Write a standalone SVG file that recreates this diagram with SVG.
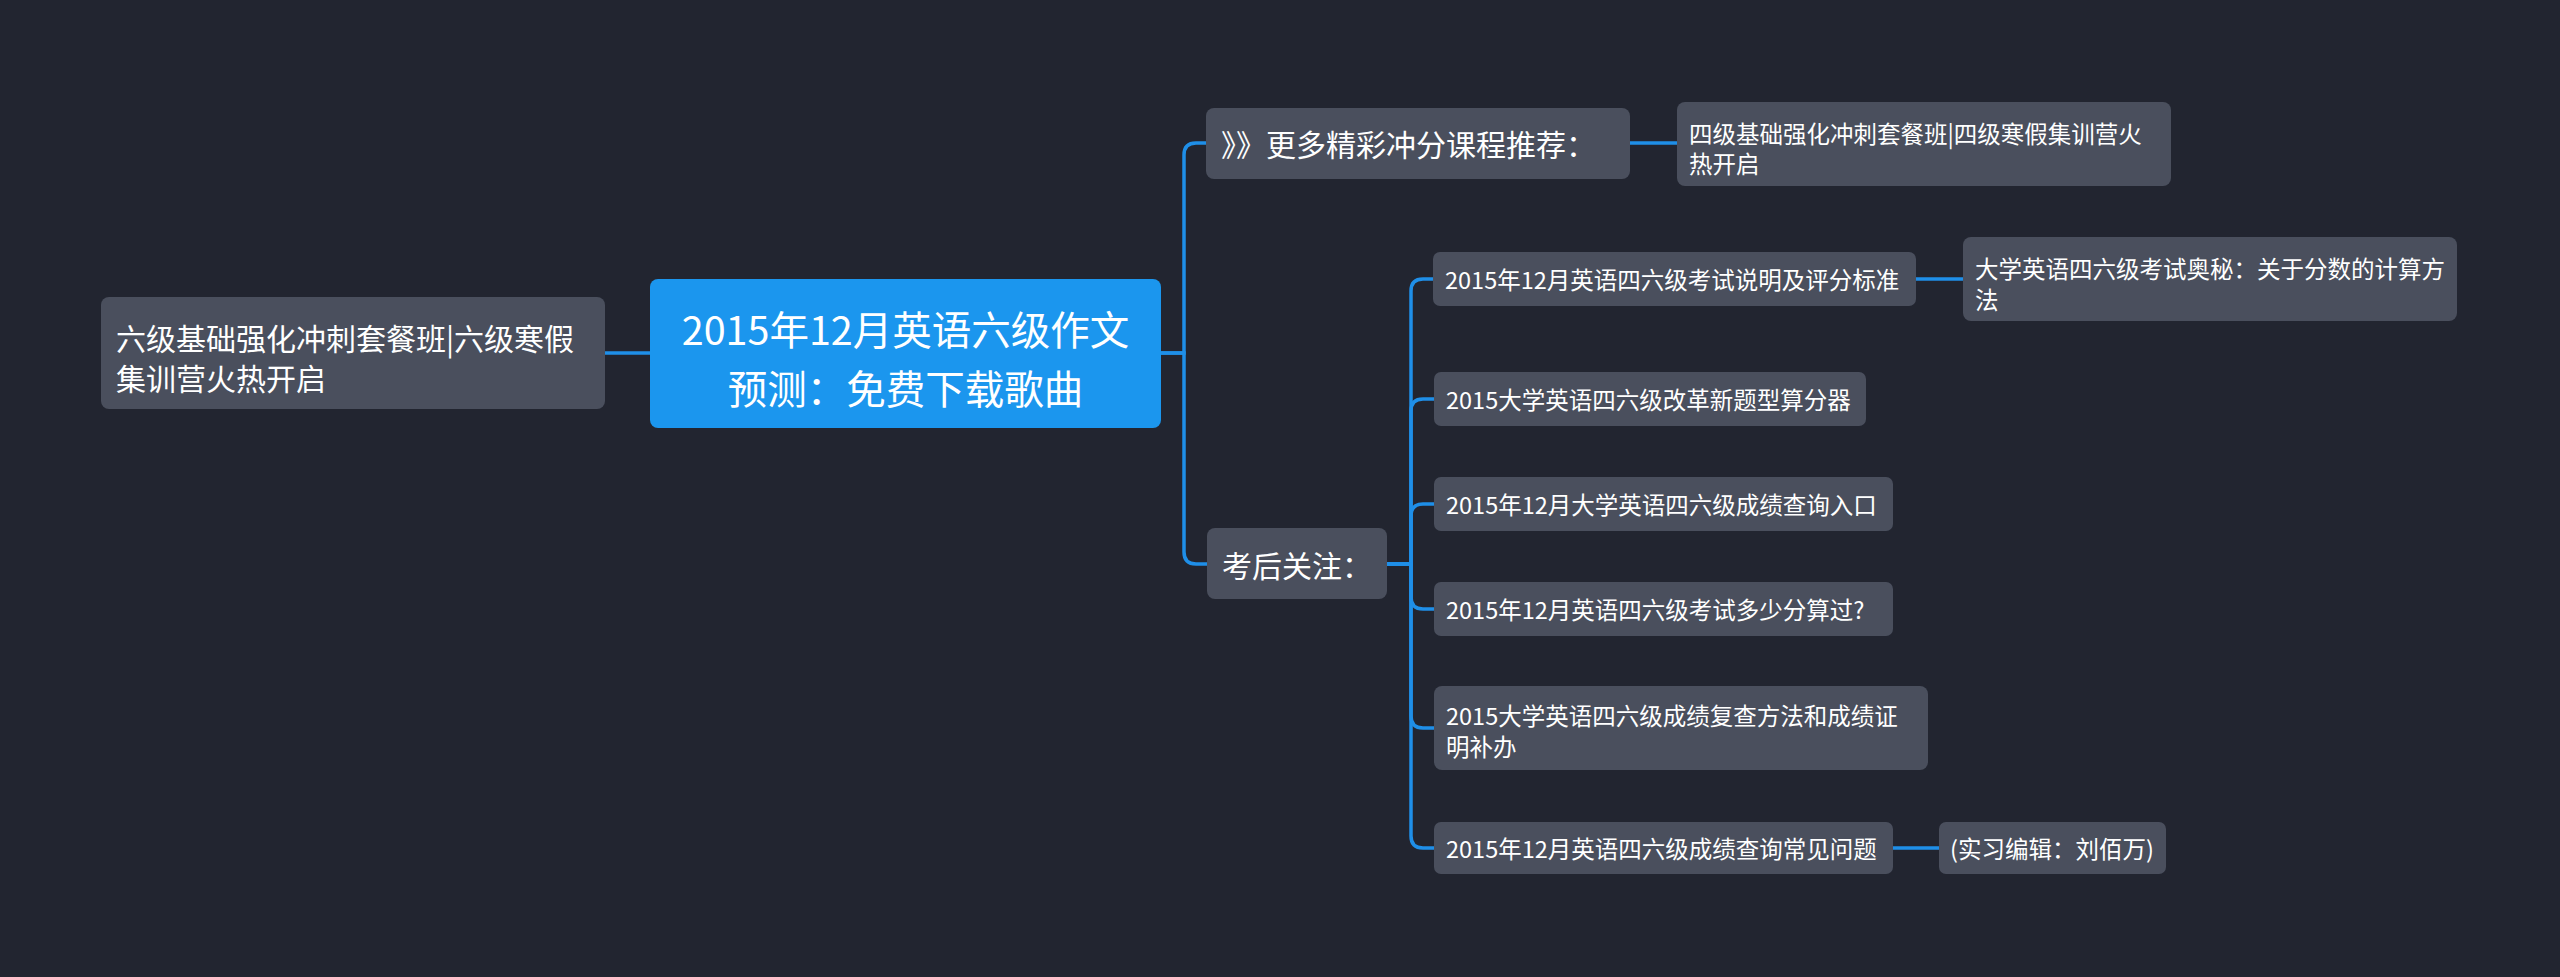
<svg xmlns="http://www.w3.org/2000/svg" width="2560" height="977" viewBox="0 0 2560 977">
<style>
.bg{fill:#222530}
.node rect{fill:#4a4f5d}
.root rect{fill:#1b96ee}
text{fill:#ffffff;font-family:"Noto Sans CJK SC","Noto Sans",sans-serif;dominant-baseline:central}
.t1{font-size:39.5px;text-anchor:middle}
.t2{font-size:30px}
.t3{font-size:23.5px}
.conn path{fill:none;stroke:#1f8fe8;stroke-width:3.5;stroke-linecap:round}
</style>
<rect class="bg" x="0" y="0" width="2560" height="977"/>
<g id="connectors" class="conn">
<path d="M605 353 H650"/>
<path d="M1161 353 H1184 V155 Q1184 143 1196 143 H1206"/>
<path d="M1161 353 H1184 V552 Q1184 564 1196 564 H1207"/>
<path d="M1630 143 H1677"/>
<path d="M1387 564 H1411 V291 Q1411 279 1423 279 H1433"/>
<path d="M1387 564 H1411 V411 Q1411 399 1423 399 H1434"/>
<path d="M1387 564 H1411 V516 Q1411 504 1423 504 H1434"/>
<path d="M1387 564 H1411 V597 Q1411 609 1423 609 H1434"/>
<path d="M1387 564 H1411 V716 Q1411 728 1423 728 H1434"/>
<path d="M1387 564 H1411 V836 Q1411 848 1423 848 H1434"/>
<path d="M1916 279 H1963"/>
<path d="M1893 848 H1939"/>
</g>
<g id="root" class="root">
<rect x="650" y="279" width="511" height="149" rx="8"/>
<text class="t1" x="905.5" y="327">2015年12月英语六级作文</text>
<text class="t1" x="905.5" y="386">预测：免费下载歌曲</text>
</g>
<g id="left" class="node">
<rect x="101" y="297" width="504" height="112" rx="8"/>
<text class="t2" x="116" y="337">六级基础强化冲刺套餐班|六级寒假</text>
<text class="t2" x="116" y="377">集训营火热开启</text>
</g>
<g id="more" class="node">
<rect x="1206" y="108" width="424" height="71" rx="8"/>
<text class="t2" x="1221" y="143">》》更多精彩冲分课程推荐：</text>
</g>
<g id="more-child" class="node">
<rect x="1677" y="102" width="494" height="84" rx="8"/>
<text class="t3" x="1689" y="133">四级基础强化冲刺套餐班|四级寒假集训营火</text>
<text class="t3" x="1689" y="163">热开启</text>
</g>
<g id="after" class="node">
<rect x="1207" y="528" width="180" height="71" rx="8"/>
<text class="t2" x="1222" y="564">考后关注：</text>
</g>
<g id="c1" class="node">
<rect x="1433" y="252" width="483" height="54" rx="7"/>
<text class="t3" x="1445" y="279">2015年12月英语四六级考试说明及评分标准</text>
</g>
<g id="c1-child" class="node">
<rect x="1963" y="237" width="494" height="84" rx="8"/>
<text class="t3" x="1975" y="268">大学英语四六级考试奥秘：关于分数的计算方</text>
<text class="t3" x="1975" y="299">法</text>
</g>
<g id="c2" class="node">
<rect x="1434" y="372" width="432" height="54" rx="7"/>
<text class="t3" x="1446" y="399">2015大学英语四六级改革新题型算分器</text>
</g>
<g id="c3" class="node">
<rect x="1434" y="477" width="459" height="54" rx="7"/>
<text class="t3" x="1446" y="504">2015年12月大学英语四六级成绩查询入口</text>
</g>
<g id="c4" class="node">
<rect x="1434" y="582" width="459" height="54" rx="7"/>
<text class="t3" x="1446" y="609">2015年12月英语四六级考试多少分算过?</text>
</g>
<g id="c5" class="node">
<rect x="1434" y="686" width="494" height="84" rx="8"/>
<text class="t3" x="1446" y="715">2015大学英语四六级成绩复查方法和成绩证</text>
<text class="t3" x="1446" y="746">明补办</text>
</g>
<g id="c6" class="node">
<rect x="1434" y="822" width="459" height="52" rx="7"/>
<text class="t3" x="1446" y="848">2015年12月英语四六级成绩查询常见问题</text>
</g>
<g id="c6-child" class="node">
<rect x="1939" y="822" width="227" height="52" rx="7"/>
<text class="t3" x="1950" y="848">(实习编辑：刘佰万)</text>
</g>
</svg>
